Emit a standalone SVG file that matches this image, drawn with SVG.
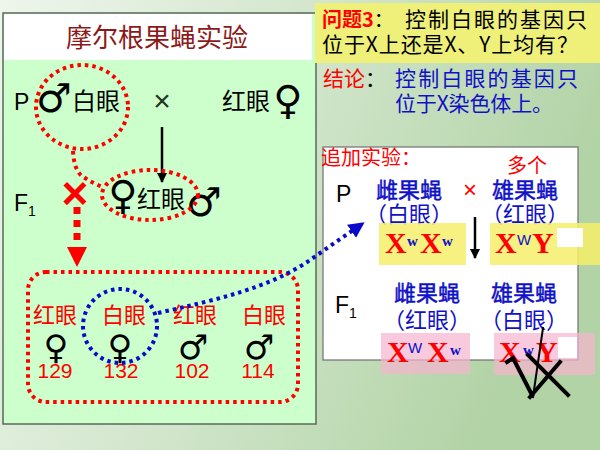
<svg xmlns="http://www.w3.org/2000/svg" width="600" height="450" viewBox="0 0 600 450">
<defs>
<linearGradient id="bg" x1="0" y1="0" x2="1" y2="0.3">
<stop offset="0" stop-color="#eef5ec"/>
<stop offset="0.5" stop-color="#d2e6cc"/>
<stop offset="1" stop-color="#b2d3a6"/>
</linearGradient>
<marker id="ablk" viewBox="0 0 10 10" refX="9" refY="5" markerWidth="10" markerHeight="10" orient="auto" markerUnits="userSpaceOnUse">
<path d="M0,0 L10,5 L0,10 z" fill="#000"/>
</marker>
<marker id="ablue" viewBox="0 0 10 10" refX="8" refY="5" markerWidth="16" markerHeight="16" orient="auto" markerUnits="userSpaceOnUse">
<path d="M0,0 L10,5 L0,10 z" fill="#0a0ac8"/>
</marker>
</defs>
<style>
.cjk{font-family:"Noto Sans CJK SC","Noto Sans",sans-serif}
.lat{font-family:"Liberation Sans",Arial,sans-serif}
.sym{font-family:"DejaVu Sans",sans-serif;fill:#000;font-weight:bold}
.ser{font-family:"Liberation Serif","Times New Roman",serif;font-weight:bold}
.red{fill:#ff0000}
.blue{fill:#1010c8}
.med{stroke:#1010c8;stroke-width:0.5}
.blk{fill:#000}
.rdot{fill:none;stroke:#ff0000;stroke-width:4;stroke-dasharray:3.5 4}
.bdot{fill:none;stroke:#0a0ac8;stroke-width:4;stroke-dasharray:3.5 4}
.X{fill:#ff0000;font-size:30px}
.sup{fill:#1010c8;font-size:15px}
</style>
<rect x="0" y="0" width="600" height="450" fill="url(#bg)"/>

<g id="left-panel">
<rect x="3" y="13" width="313" height="411" fill="#ccffcc" stroke="#5a6a5a" stroke-width="1.5"/>
<rect x="4" y="14" width="308" height="46" fill="#ffffff"/>
<text x="157" y="47" text-anchor="middle" class="cjk" font-size="26" fill="#8b1a1a">摩尔根果蝇实验</text>
</g>

<g id="parent-row">
<text x="14" y="110" class="lat blk" font-size="23">P</text>
<text x="36" y="112" class="sym" font-size="40">♂</text>
<text x="72" y="110" class="cjk blk" font-size="24">白眼</text>
<text x="162" y="111" text-anchor="middle" class="lat" font-size="30" fill="#223322">×</text>
<text x="222" y="110" class="cjk blk" font-size="24">红眼</text>
<text x="288" y="114" text-anchor="middle" class="sym" font-size="40">♀</text>
</g>

<g id="f1-row">
<text x="14" y="211" class="lat blk" font-size="23">F</text>
<text x="28" y="216" class="lat blk" font-size="14">1</text>
<text x="123" y="209" text-anchor="middle" class="sym" font-size="40">♀</text>
<text x="137" y="208" class="cjk blk" font-size="24">红眼</text>
<text x="186" y="216" class="sym" font-size="40">♂</text>
</g>

<g id="offspring">
<text x="33" y="323" class="cjk red" font-size="22">红眼</text>
<text x="102" y="323" class="cjk red" font-size="22">白眼</text>
<text x="173" y="323" class="cjk red" font-size="22">红眼</text>
<text x="242" y="323" class="cjk red" font-size="22">白眼</text>
<text x="56" y="359" text-anchor="middle" class="sym" font-size="34">♀</text>
<text x="120" y="359" text-anchor="middle" class="sym" font-size="34">♀</text>
<text x="193" y="359" text-anchor="middle" class="sym" font-size="34">♂</text>
<text x="259" y="359" text-anchor="middle" class="sym" font-size="34">♂</text>
<text x="55" y="378" text-anchor="middle" class="lat red" font-size="21">129</text>
<text x="121" y="378" text-anchor="middle" class="lat red" font-size="21">132</text>
<text x="192" y="378" text-anchor="middle" class="lat red" font-size="21">102</text>
<text x="258" y="378" text-anchor="middle" class="lat red" font-size="21">114</text>
</g>

<g id="question">
<rect x="315" y="3" width="285" height="60" fill="#eef07a"/>
<text x="322" y="27" class="cjk" font-size="20"><tspan class="red" font-weight="bold">问题3</tspan><tspan class="blk">：</tspan></text>
<text x="405" y="27" class="cjk blk" font-size="21" textLength="182" lengthAdjust="spacing">控制白眼的基因只</text>
<text x="322" y="52" class="cjk blk" font-size="21" textLength="256" lengthAdjust="spacing">位于X上还是X、Y上均有？</text>
</g>

<g id="conclusion">
<text x="323" y="86" class="cjk" font-size="21"><tspan class="red">结论</tspan><tspan class="blk">：</tspan></text>
<text x="395" y="86" class="cjk blue" font-size="21" textLength="183" lengthAdjust="spacing">控制白眼的基因只</text>
<text x="395" y="111" class="cjk blue" font-size="21" textLength="158" lengthAdjust="spacing">位于X染色体上。</text>
</g>

<g id="extra-experiment">
<rect x="323" y="147" width="255" height="213" fill="#ffffff" stroke="#707070" stroke-width="1.2"/>
<text x="321" y="165" class="cjk red" font-size="20">追加实验：</text>
<text x="527" y="173" text-anchor="middle" class="cjk red" font-size="20">多个</text>
<text x="336" y="202" class="lat blk" font-size="23">P</text>
<text x="409" y="198" text-anchor="middle" class="cjk blue med" font-size="22">雌果蝇</text>
<text x="409" y="222" text-anchor="middle" class="cjk blue" font-size="22">（白眼）</text>
<text x="470" y="198" text-anchor="middle" class="lat red" font-size="24">×</text>
<text x="525" y="198" text-anchor="middle" class="cjk blue med" font-size="22">雄果蝇</text>
<text x="525" y="222" text-anchor="middle" class="cjk blue" font-size="22">（红眼）</text>
<rect x="379" y="223" width="87" height="42" fill="#f4ee6a" opacity="0.85"/>
<rect x="490" y="223" width="110" height="42" fill="#f4ee6a" opacity="0.85"/>
<text y="253" class="ser"><tspan x="385" class="X">X</tspan><tspan x="407" y="246" class="sup">w</tspan><tspan x="420" y="253" class="X">X</tspan><tspan x="442" y="246" class="sup">w</tspan></text>
<text y="253" class="ser"><tspan x="495" class="X">X</tspan><tspan x="517" y="245" class="sup" font-weight="normal" font-family="Liberation Sans">W</tspan><tspan x="532" y="253" class="X">Y</tspan></text>
<rect x="557" y="228" width="26" height="19" fill="#ffffff"/>
<text x="335" y="313" class="lat blk" font-size="23">F</text>
<text x="349" y="318" class="lat blk" font-size="14">1</text>
<text x="427" y="301" text-anchor="middle" class="cjk blue med" font-size="22">雌果蝇</text>
<text x="427" y="328" text-anchor="middle" class="cjk blue" font-size="22">（红眼）</text>
<text x="524" y="301" text-anchor="middle" class="cjk blue med" font-size="22">雄果蝇</text>
<text x="524" y="328" text-anchor="middle" class="cjk blue" font-size="22">（白眼）</text>
<rect x="381" y="333" width="89" height="41" fill="#f6b4cf" opacity="0.7"/>
<rect x="494" y="333" width="101" height="42" fill="#f6b4cf" opacity="0.7"/>
<text y="362" class="ser"><tspan x="387" class="X">X</tspan><tspan x="408" y="353" class="sup" font-weight="normal" font-family="Liberation Sans">W</tspan><tspan x="427" y="362" class="X">X</tspan><tspan x="450" y="355" class="sup">w</tspan></text>
<text y="362" class="ser"><tspan x="499" class="X">X</tspan><tspan x="523" y="355" class="sup">w</tspan><tspan x="536" y="362" class="X">Y</tspan></text>
<rect x="558" y="337" width="19" height="21" fill="#ffffff"/>
<g stroke="#000" stroke-linecap="square" fill="none">
<path d="M507,362 L513,358 L532,395" stroke-width="4"/>
<path d="M528,355 L568,395" stroke-width="4"/>
<path d="M560,362 L530,397" stroke-width="4"/>
<path d="M543,328 L533,397" stroke-width="2"/>
</g>
</g>

<g id="connectors">
<line x1="162" y1="127" x2="162" y2="182" stroke="#000" stroke-width="2.5" marker-end="url(#ablk)"/>
<line x1="475" y1="217" x2="475" y2="258" stroke="#000" stroke-width="2.5" marker-end="url(#ablk)"/>
<ellipse cx="82" cy="107" rx="46" ry="42" class="rdot"/>
<ellipse cx="150" cy="195" rx="48" ry="25" class="rdot"/>
<path d="M73,151 Q74,170 82,176 Q92,183 103,187" class="rdot"/>
<text x="75" y="209" text-anchor="middle" class="lat red" font-size="46" font-weight="bold">×</text>
<line x1="77" y1="207" x2="77" y2="246" stroke="#ff0000" stroke-width="7" stroke-dasharray="7 6"/>
<path d="M67,247 L87,247 L77,267 z" fill="#ff0000"/>
<rect x="28" y="272" width="270" height="130" rx="18" class="rdot"/>
<circle cx="120" cy="326" r="37" class="bdot"/>
<path d="M158,313 C215,300 270,288 310,260 L362,224" class="bdot" marker-end="url(#ablue)"/>
</g>
</svg>
